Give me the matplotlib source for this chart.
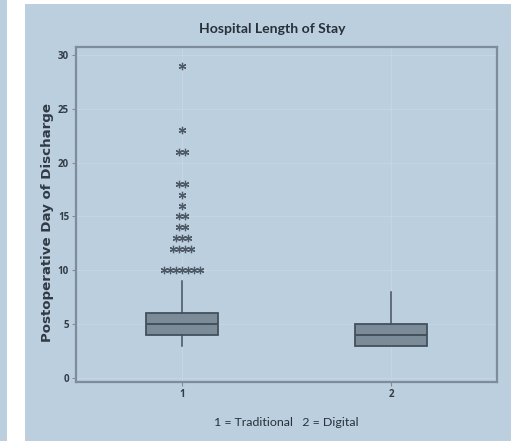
import matplotlib
matplotlib.use("Agg")
import matplotlib.pyplot as plt
from matplotlib.patches import Rectangle

# box statistics
groups = [1, 2]
group_labels = ["1", "2"]
q1 = [4, 3]
median = [5, 4]
q3 = [6, 5]
whisker_low = [3, 3]
whisker_high = [9, 8]

# outliers of group 1: value and how many stars
outlier_values = [29, 23, 21, 18, 17, 16, 15, 14, 13, 12, 10]
outlier_counts = [1, 1, 2, 2, 1, 1, 2, 2, 3, 4, 7]

title = "Hospital Length of Stay"
ylabel = "Postoperative Day of Discharge"
xlabel = "1 = Traditional   2 = Digital"

bg = "#bccfdf"
box_fill = "#7b8b98"
dark = "#44515d"
spine_c = "#7d8d9b"

plt.rcParams['font.family'] = ['Open Sans', 'DejaVu Sans']

fig = plt.figure(figsize=(5.11, 4.41), dpi=100)
fig.patch.set_facecolor("white")
fig.patches.append(Rectangle((0, 0), 7 / 511, 1, transform=fig.transFigure,
                             facecolor=bg, edgecolor="none", zorder=-5))
fig.patches.append(Rectangle((25 / 511, 0), 1 - 25 / 511, 437 / 441,
                             transform=fig.transFigure, facecolor=bg,
                             edgecolor="none", zorder=-5))

ax = fig.add_axes([76 / 511, 59 / 441, 421 / 511, 335 / 441])
ax.set_facecolor(bg)

stats = []
for i in range(len(groups)):
    stats.append({"med": median[i], "q1": q1[i], "q3": q3[i],
                  "whislo": whisker_low[i], "whishi": whisker_high[i],
                  "fliers": []})
ax.bxp(stats, positions=groups, widths=0.34, patch_artist=True,
       showcaps=False, showfliers=False,
       boxprops=dict(facecolor=box_fill, edgecolor=dark, linewidth=1.3),
       medianprops=dict(color=dark, linewidth=1.4),
       whiskerprops=dict(color=dark, linewidth=1.1), zorder=3)

# stars, spread sideways when several share one value
step = 0.028
for v, n in zip(outlier_values, outlier_counts):
    xs = [groups[0] + (k - (n - 1) / 2) * step for k in range(n)]
    ax.plot(xs, [v] * n, linestyle="none", marker=(6, 2, 0), markersize=5.3,
            markeredgewidth=0.9, color="#4e5b67", zorder=4)

ax.set_xlim(0.493, 2.507)
ax.set_ylim(-0.37, 30.74)
ax.set_yticks([0, 5, 10, 15, 20, 25, 30])
ax.set_xticks(groups)
ax.set_xticklabels(group_labels)
ax.grid(True, color="#c6d6e3", linewidth=0.7, zorder=0)
ax.set_axisbelow(True)

for s in ax.spines.values():
    s.set_color(spine_c)
    s.set_linewidth(1.6)
ax.tick_params(axis="both", length=3, width=0.8, color=spine_c,
               labelsize=7, labelcolor="#333d46", pad=2)
for lab in ax.get_xticklabels() + ax.get_yticklabels():
    lab.set_fontweight("bold")

fig.text(272 / 511, 1 - 29 / 441, title, fontsize=10.1, color="#27313a",
         ha="center", va="center", fontweight="bold",
         family=['Lato', 'DejaVu Sans'])
ax.set_ylabel(ylabel, fontsize=9.6, color="#2f3a44", fontweight="bold",
              family=['DejaVu Sans'])
ax.yaxis.set_label_coords(-0.052, (382 - 223) / 335)
ax.set_xlabel(xlabel, fontsize=8.9, color="#27313a", labelpad=12,
              family=['Lato', 'DejaVu Sans'])

fig.savefig("out.png", dpi=100, facecolor=fig.get_facecolor())
